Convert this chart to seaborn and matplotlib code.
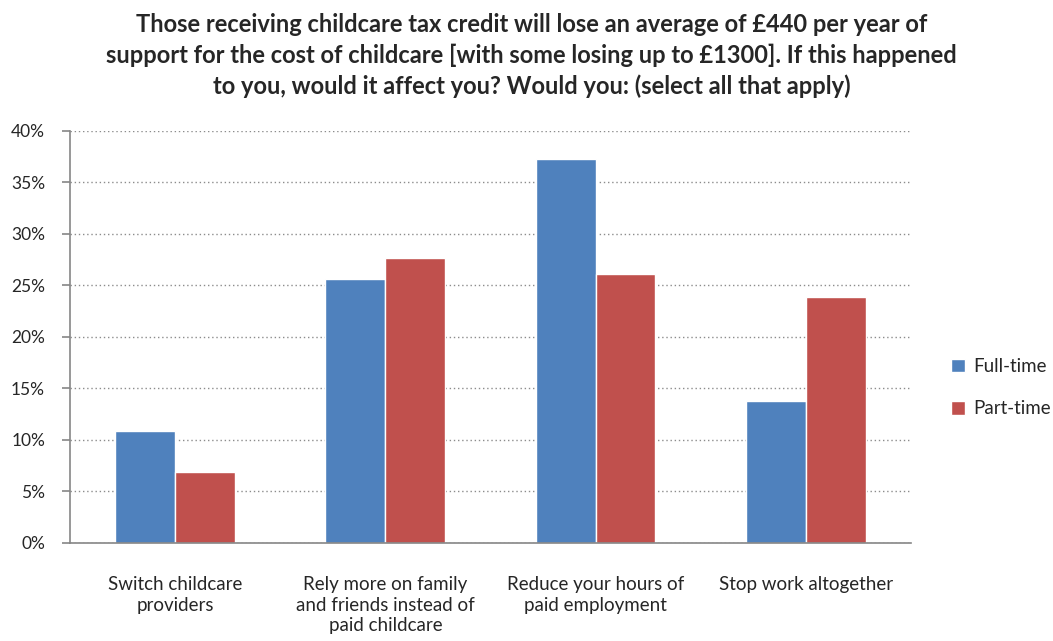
import pandas as pd
import matplotlib.pyplot as plt
import seaborn as sns
from matplotlib.ticker import FuncFormatter

# Data
categories = [
    "Switch childcare\nproviders",
    "Rely more on family\nand friends instead of\npaid childcare",
    "Reduce your hours of\npaid employment",
    "Stop work altogether",
]
full_time = [10.9, 25.6, 37.3, 13.8]
part_time = [6.9, 27.7, 26.1, 23.9]
series = ["Full-time", "Part-time"]
colors = ["#4F81BD", "#C0504D"]

df = pd.DataFrame({
    "category": categories * 2,
    "value": full_time + part_time,
    "series": [series[0]] * 4 + [series[1]] * 4,
})

sns.set_style("white")
plt.rcParams["font.family"] = ["Lato", "DejaVu Sans"]

fig = plt.figure(figsize=(10.53, 6.41), dpi=100)
ax = fig.add_axes([0.0665, 0.153, 0.7985, 0.643])

sns.barplot(data=df, x="category", y="value", hue="series",
            palette=colors, width=0.57, saturation=1, ax=ax)

ax.set_ylim(0, 40)
ax.set_yticks(range(0, 41, 5))
ax.yaxis.set_major_formatter(FuncFormatter(lambda v, p: f"{v:.0f}%"))
ax.set_xlim(-0.5, 3.5)
ax.set_xlabel("")
ax.set_ylabel("")

ax.grid(axis="y", color="#8c8c8c", linestyle=(0, (1, 2)), linewidth=1)
ax.set_axisbelow(True)
for s in ["top", "right"]:
    ax.spines[s].set_visible(False)
for s in ["left", "bottom"]:
    ax.spines[s].set_color("#868686")
    ax.spines[s].set_linewidth(1.2)

ax.set_xticks([-0.5, 0.5, 1.5, 2.5, 3.5], minor=False)
ax.set_xticklabels([])
ax.set_xticks([0, 1, 2, 3], minor=True)
ax.set_xticklabels(categories, minor=True, fontsize=13.5, linespacing=1.25)
ax.tick_params(axis="x", which="major", length=6, color="#868686", width=1.2, direction="out")
ax.tick_params(axis="x", which="minor", length=0, pad=24)
ax.tick_params(axis="y", length=6, color="#868686", width=1.2, direction="out",
               labelsize=12.5, pad=12)
ax.tick_params(axis="y", which="major", left=True)

leg = ax.legend(loc="center left", bbox_to_anchor=(0.887, 0.395),
                bbox_transform=fig.transFigure, frameon=False,
                fontsize=13.5, handlelength=0.75, handleheight=0.75,
                labelspacing=1.35, handletextpad=0.45)

fig.suptitle("Those receiving childcare tax credit will lose an average of £440 per year of\n"
             "support for the cost of childcare [with some losing up to £1300]. If this happened\n"
             "to you, would it affect you? Would you: (select all that apply)",
             x=0.505, y=0.98, fontsize=17, fontweight="bold", linespacing=1.4)

fig.savefig("out.png", dpi=100)
